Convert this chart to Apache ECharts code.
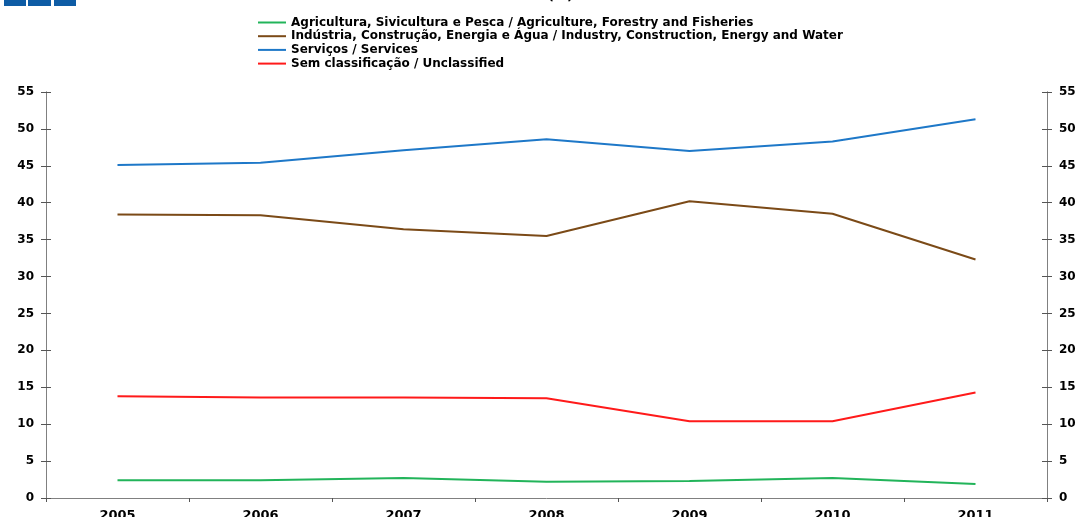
<!DOCTYPE html>
<html>
<head>
<meta charset="utf-8">
<script src="https://cdn.jsdelivr.net/npm/echarts@6/dist/echarts.min.js"></script>
<style>
html,body{margin:0;padding:0;background:#fff;}
#c{width:1077px;height:517px;}
</style>
</head>
<body>
<div id="c"></div>
<script>
const years = ['2005','2006','2007','2008','2009','2010','2011'];
const agriculture = [2.4, 2.4, 2.7, 2.2, 2.3, 2.7, 1.9];
const industry = [38.4, 38.3, 36.4, 35.5, 40.2, 38.5, 32.3];
const services = [45.1, 45.4, 47.1, 48.6, 47.0, 48.3, 51.3];
const unclassified = [13.8, 13.6, 13.6, 13.5, 10.4, 10.4, 14.3];
const seriesNames = [
  'Agricultura, Sivicultura e Pesca / Agriculture, Forestry and Fisheries',
  'Indústria, Construção, Energia e Água / Industry, Construction, Energy and Water',
  'Serviços / Services',
  'Sem classificação / Unclassified'
];
const seriesColors = ['#22b45a', '#7b4a17', '#1e78c8', '#ff1a1a'];
const seriesData = [agriculture, industry, services, unclassified];

const font = "'DejaVu Sans', 'Liberation Sans', Arial, sans-serif";
const axisGrey = '#808080';

function yAx(pos, inside, labels) {
  return {
    type: 'value', position: pos, min: 0, max: 55, interval: 5,
    axisLine: {show: true, lineStyle: {color: axisGrey, width: 1}},
    axisTick: {show: true, inside: inside, length: 5, lineStyle: {color: '#555'}},
    axisLabel: {show: labels, color: '#000', fontFamily: font, fontWeight: 'bold', fontSize: 12, margin: 12},
    splitLine: {show: false}
  };
}

const chart = echarts.init(document.getElementById('c'));
chart.setOption({
  animation: false,
  backgroundColor: '#fff',
  grid: {left: 46, right: 30, top: 92, bottom: 19, containLabel: false, outerBoundsMode: 'none'},
  legend: {
    orient: 'vertical', left: 253, top: 11.5, itemWidth: 28, itemHeight: 2, itemGap: 1.7,
    icon: 'rect',
    textStyle: {fontFamily: font, fontWeight: 'bold', fontSize: 12, color: '#000', lineHeight: 12},
    data: seriesNames
  },
  graphic: [
    {type: 'rect', shape: {x: 4, y: 0, width: 22, height: 6}, style: {fill: '#0e5ca5'}},
    {type: 'rect', shape: {x: 28, y: 0, width: 23, height: 6}, style: {fill: '#0e5ca5'}},
    {type: 'rect', shape: {x: 54, y: 0, width: 22, height: 6}, style: {fill: '#0e5ca5'}},
    {type: 'text', x: 548, y: -10, style: {text: '(%)', font: "bold 13px 'DejaVu Sans', Arial", fill: '#000'}}
  ],
  xAxis: {
    type: 'category', data: years, boundaryGap: true,
    axisLine: {show: true, lineStyle: {color: axisGrey}},
    axisTick: {show: true, length: 4, alignWithLabel: false, lineStyle: {color: '#555'}},
    axisLabel: {color: '#000', fontFamily: font, fontWeight: 'bold', fontSize: 13, margin: 11},
    splitLine: {show: false}
  },
  yAxis: [yAx('left', false, true), yAx('right', false, true), yAx('left', true, false), yAx('right', true, false)],
  series: seriesNames.map((n, i) => ({
    name: n, type: 'line', yAxisIndex: 0, data: seriesData[i], symbol: 'none',
    itemStyle: {color: seriesColors[i]},
    lineStyle: {color: seriesColors[i], width: 2}
  }))
});
</script>
</body>
</html>
